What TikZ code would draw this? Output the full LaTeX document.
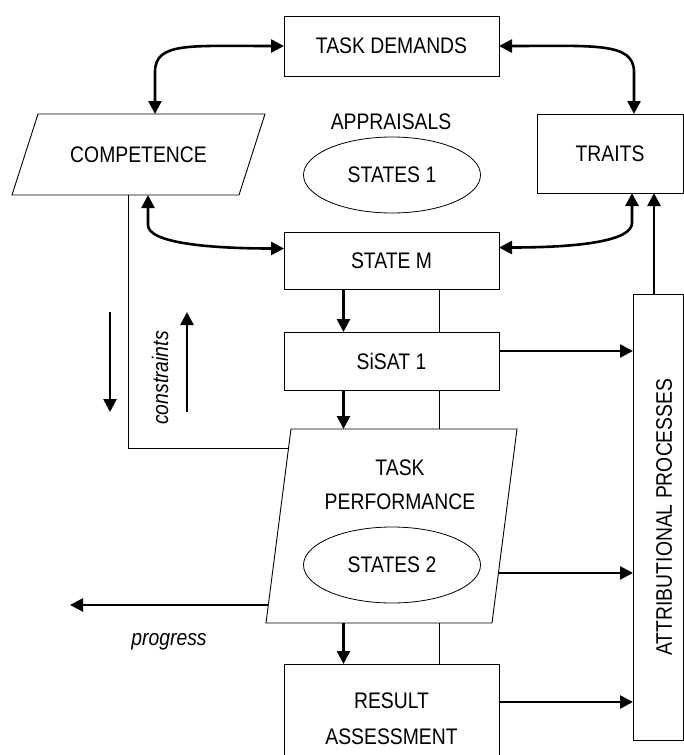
\documentclass[tikz,border=0pt]{standalone}
\usepackage{fontspec}
\setmainfont{Liberation Sans}[FakeStretch=0.86]
\usetikzlibrary{positioning,arrows.meta,shapes.geometric,calc}

\begin{document}
\begin{tikzpicture}[x=1pt, y=-1pt,
      every node/.style={align=center, font=\fontsize{22.5}{23}\selectfont},
      box/.style={draw, line width=0.9pt, inner sep=0pt, outer sep=0pt},
      slot/.style={inner sep=0pt, outer sep=0pt},
      oval/.style={ellipse, draw, line width=0.8pt, inner sep=0pt,
                   minimum width=177pt, minimum height=76pt},
      note/.style={font=\fontsize{22.5}{23}\selectfont\itshape},
      arr/.style={line width=2.6pt, -{Triangle[length=13pt,width=13pt]}},
      dbl/.style={line width=2.6pt, {Triangle[length=13pt,width=13pt]}-{Triangle[length=13pt,width=13pt]}},
      link/.style={line width=0.9pt}]
    \useasboundingbox (0,0) rectangle (684,755);

    % boxes
    \node[box, minimum width=215pt, minimum height=60pt] (td) at (391.5,46) {TASK DEMANDS};
    \node[box, minimum width=146pt, minimum height=79pt] (traits) at (610,153.5) {TRAITS};
    \node[slot, minimum width=253pt, minimum height=81pt] (comp) at (138.5,154.5) {COMPETENCE};
    \draw[link] ([xshift=26pt]comp.north west) -- (comp.north east)
       -- ([xshift=-26pt]comp.south east) -- (comp.south west) -- cycle;
    \node (appr) at (391,122) {APPRAISALS};
    \node[oval] (st1) at (392,175) {STATES 1};
    \node[box, minimum width=215pt, minimum height=57pt] (statem) at (391.5,260.5) {STATE M};
    \node[box, minimum width=215pt, minimum height=58pt] (sisat) at (391.5,361) {SiSAT 1};
    \node[slot, minimum width=251pt, minimum height=194pt] (tperf) at (391.5,526) {};
    \coordinate (tptl) at ([xshift=25pt]tperf.north west);
    \coordinate (tptr) at (tperf.north east);
    \coordinate (tpbr) at ([xshift=-25pt]tperf.south east);
    \coordinate (tpbl) at (tperf.south west);
    \draw[link] (tptl) -- (tptr) -- (tpbr) -- (tpbl) -- cycle;
    \node (tptext) at (400,485) {TASK\\[11pt]PERFORMANCE};
    \node[oval] (st2) at (392,565) {STATES 2};
    \node[box, minimum width=215pt, minimum height=110pt] (result) at (391.5,719) {RESULT\\[13pt]ASSESSMENT};
    \node[box, minimum width=50pt, minimum height=446pt] (attrib) at (658,517) {};
    \node[rotate=90] (attext) at ([xshift=6pt]attrib.center) {ATTRIBUTIONAL PROCESSES};

    % two-way links
    \draw[dbl] (td.west) .. controls +(-95,0) and +(0,-30) .. ([xshift=16.5pt,yshift=42pt]comp.north)
       -- ([xshift=16.5pt]comp.north);
    \draw[dbl] (td.east) .. controls +(95,0) and +(0,-30) .. ([xshift=24pt,yshift=42pt]traits.north)
       -- ([xshift=24pt]traits.north);
    \draw[dbl] ([xshift=9.5pt]comp.south) -- ([xshift=9.5pt,yshift=-30pt]comp.south)
       .. controls +(0,18) and +(-75,0) .. ([yshift=12pt]statem.west);
    \draw[dbl] ([yshift=13pt]statem.east) .. controls +(80,0) and +(0,18) .. ([xshift=22pt,yshift=-30pt]traits.south)
       -- ([xshift=22pt]traits.south);
    \draw[arr] ([xshift=-4pt]attrib.north) -- ([xshift=44pt]traits.south);

    % main chain
    \draw[arr] ([xshift=-48pt]statem.south) -- ([xshift=-48pt]sisat.north);
    \draw[arr] ([xshift=-48pt]sisat.south) -- ([xshift=-48pt]tperf.north);
    \draw[arr] ([xshift=-48pt]tperf.south) -- ([xshift=-48pt]result.north);
    \draw[link] ([xshift=47.5pt]statem.south) -- ([xshift=47.5pt]sisat.north);
    \draw[link] ([xshift=47.5pt]sisat.south) -- ([xshift=47.5pt]tperf.north);
    \draw[link] ([xshift=47.5pt]tperf.south) -- ([xshift=47.5pt]result.north);

    % competence line
    \coordinate (c2) at ($(tptl)!0.098!(tpbl)$);
    \draw[link] ([xshift=-10.5pt]comp.south) |- (c2);

    % to attributional processes
    \coordinate (s1) at ([yshift=10pt]sisat.east);
    \draw[arr] (s1) -- (s1 -| attrib.west);
    \coordinate (p1) at ($(tptr)!0.742!(tpbr)$);
    \draw[arr] (p1) -- (p1 -| attrib.west);
    \coordinate (r1) at ([yshift=17pt]result.east);
    \draw[arr] (r1) -- (r1 -| attrib.west);

    % progress
    \coordinate (p2) at ($(tptl)!0.907!(tpbl)$);
    \coordinate (prog) at (70,605);
    \draw[arr] (p2) -- (p2 -| prog);
    \node[note] (proglbl) at (169,642) {progress};

    % constraints
    \coordinate (cdtop) at (110,312);
    \coordinate (cdbot) at (110,412);
    \draw[arr] (cdtop) -- (cdbot);
    \coordinate (cutop) at (187,312);
    \coordinate (cubot) at (187,412);
    \draw[arr] (cubot) -- (cutop);
    \node[note, rotate=90] (cons) at (160,378) {constraints};
  \end{tikzpicture}
\end{document}
